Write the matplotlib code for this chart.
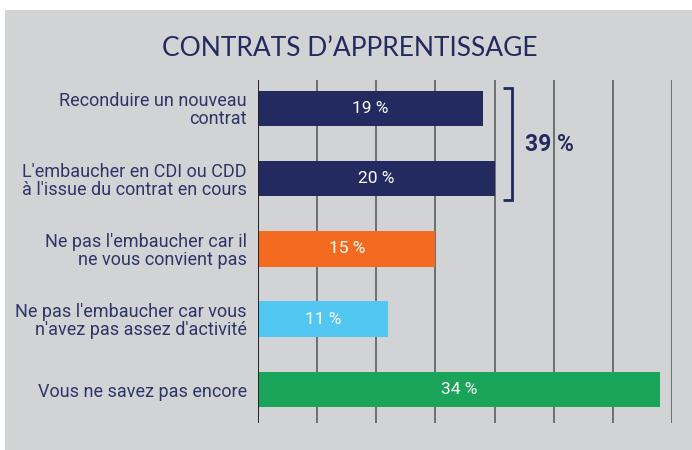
import matplotlib.pyplot as plt
import numpy as np

labels = [
    "Reconduire un nouveau\ncontrat",
    "L'embaucher en CDI ou CDD\nà l'issue du contrat en cours",
    "Ne pas l'embaucher car il\nne vous convient pas",
    "Ne pas l'embaucher car vous\nn'avez pas assez d'activité",
    "Vous ne savez pas encore",
]
values = [19, 20, 15, 11, 34]
colors = ["#232a5f", "#232a5f", "#f46a21", "#52c7f1", "#1aa45a"]
title = "CONTRATS D\u2019APPRENTISSAGE"

BG = "#d1d3d4"
NAVY = "#232a5f"

fig = plt.figure(figsize=(6.92, 4.5), dpi=100)
fig.patch.set_facecolor("white")
# gray panel
fig.patches.append(plt.Rectangle((5 / 692, 0), 1, 1 - 10 / 450, transform=fig.transFigure,
                                 facecolor=BG, edgecolor="none", zorder=-10))

ax = fig.add_axes([258 / 692, 1 - 423 / 450, 414 / 692, 343 / 450])
ax.set_facecolor("none")

y = np.arange(len(values))
ax.barh(y, values, height=0.505, color=colors, zorder=3)
for yi, v in zip(y, values):
    ax.text(v / 2, yi, f"{v} %", color="white", ha="center", va="center",
            fontsize=12.5, family="Roboto", zorder=4)

ax.set_xlim(0, 35)
ax.set_ylim(4.476, -0.403)
for gx in np.arange(5, 36, 5):
    ax.axvline(gx, color="#5d5e60", lw=1.2, zorder=1)
ax.axvline(0, color="#222222", lw=1.4, zorder=5)

ax.set_xticks([])
ax.set_yticks(y)
ax.set_yticklabels(labels, fontsize=13, family="Roboto", color="#2f3568",
                   linespacing=1.0)
ax.tick_params(axis="y", length=0, pad=8)
for lab in ax.get_yticklabels():
    lab.set_horizontalalignment("right")
    lab.set_multialignment("right")
for s in ax.spines.values():
    s.set_visible(False)

# bracket around first two bars
bx = max(values[:2]) + 1.5
y0, y1 = y[0] - 0.29, y[1] + 1.305 - 1
ax.plot([bx - 0.75, bx, bx, bx - 0.75], [y0, y0, y1, y1], color=NAVY, lw=2,
        solid_capstyle="butt", solid_joinstyle="miter", zorder=6, clip_on=False)
ax.text(bx + 1.1, (y0 + y1) / 2, f"{sum(values[:2])} %", color=NAVY, fontsize=16.5,
        fontweight="bold", family="Roboto", ha="left", va="center", zorder=6)

fig.text(350 / 692, 1 - 48 / 450, title, ha="center", va="center", fontsize=19,
         color=NAVY, family="Lato")

fig.savefig("out.png", dpi=100, facecolor=fig.get_facecolor())
